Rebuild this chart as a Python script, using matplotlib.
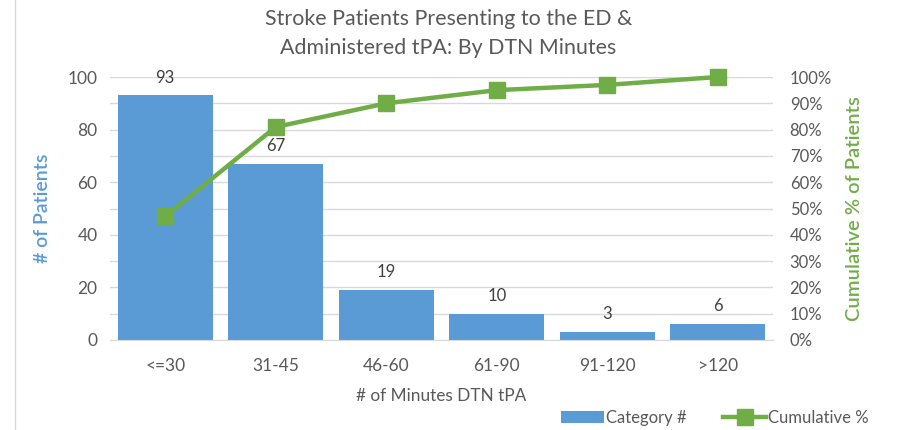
import matplotlib.pyplot as plt
import numpy as np
from matplotlib.ticker import MultipleLocator, PercentFormatter
from matplotlib.lines import Line2D

categories = ['<=30', '31-45', '46-60', '61-90', '91-120', '>120']
patients = [93, 67, 19, 10, 3, 6]
cumulative_pct = [47, 81, 90, 95, 97, 100]

blue = '#5B9BD5'
green = '#70AD47'
grey = '#595959'

plt.rcParams['font.family'] = ['Lato', 'DejaVu Sans']

fig = plt.figure(figsize=(8.97, 4.3), dpi=100)
ax1 = fig.add_axes([110 / 897, 90 / 430, 663 / 897, 263 / 430])
ax2 = ax1.twinx()

x = np.arange(len(categories))
ax1.bar(x, patients, width=0.86, color=blue, label='Category #', zorder=2)
for xi, v in zip(x, patients):
    ax1.annotate(str(v), (xi, v), xytext=(0, 7), textcoords='offset points',
                 ha='center', va='bottom', fontsize=12, color='#404040')

ax1.set_xlim(-0.5, len(categories) - 0.5)
ax1.set_ylim(0, 100)
ax1.yaxis.set_major_locator(MultipleLocator(20))
ax1.yaxis.set_minor_locator(MultipleLocator(10))
ax1.grid(axis='y', which='both', color='#D9D9D9', linewidth=1)
ax1.set_axisbelow(True)
ax1.set_xticks(x)
ax1.set_xticklabels(categories)
ax1.tick_params(axis='both', which='both', length=0, labelsize=12.5, labelcolor=grey)
ax1.tick_params(axis='x', pad=13)
ax1.tick_params(axis='y', pad=9)
for s in ['top', 'left', 'right']:
    ax1.spines[s].set_visible(False)
ax1.spines['bottom'].set_color('#D9D9D9')
ax1.set_ylabel('# of Patients', color=blue, fontsize=14, fontweight='semibold', labelpad=12)
ax1.set_xlabel('# of Minutes DTN tPA', color=grey, fontsize=12.4, labelpad=10)

ax2.plot(x, cumulative_pct, color=green, linewidth=3.2, marker='s', markersize=11,
         label='Cumulative %', zorder=3, clip_on=False)
ax2.set_ylim(0, 100)
ax2.yaxis.set_major_locator(MultipleLocator(10))
ax2.yaxis.set_major_formatter(PercentFormatter(decimals=0))
ax2.tick_params(axis='y', length=0, labelsize=12, labelcolor=grey, pad=12)
for s in ax2.spines.values():
    s.set_visible(False)
ax2.set_ylabel('Cumulative % of Patients', color=green, fontsize=14.5,
               fontweight='semibold', labelpad=10)

fig.suptitle('Stroke Patients Presenting to the ED &\nAdministered tPA: By DTN Minutes',
             x=0.5, y=0.978, fontsize=15.4, color=grey, linespacing=1.55)

h1, l1 = ax1.get_legend_handles_labels()
h2, l2 = ax2.get_legend_handles_labels()
fig.legend(h1 + h2, l1 + l2, loc='lower right', bbox_to_anchor=(0.985, -0.025), ncol=2,
           frameon=False, fontsize=12, labelcolor=grey, handlelength=2.6,
           handletextpad=0.1, columnspacing=2.2)

fig.add_artist(Line2D([15 / 897, 15 / 897], [0, 1], color='#D9D9D9', linewidth=1))

fig.savefig('out.png', dpi=100)
